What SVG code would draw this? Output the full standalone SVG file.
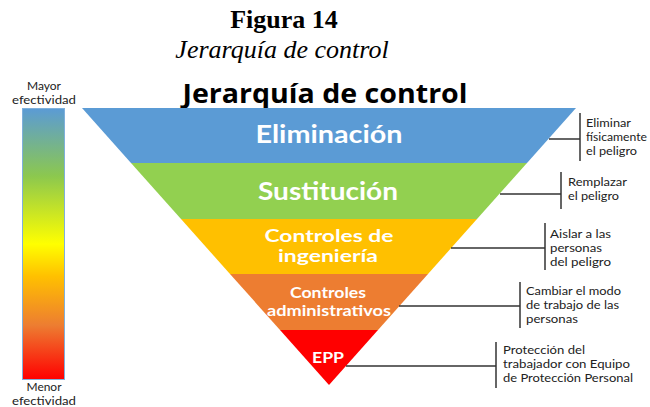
<svg xmlns="http://www.w3.org/2000/svg" width="650" height="407" viewBox="0 0 650 407">
<defs>
<linearGradient id="eff" x1="0" y1="0" x2="0" y2="1">
<stop offset="0" stop-color="#5b9bd5"/>
<stop offset="0.25" stop-color="#8cc84e"/>
<stop offset="0.5" stop-color="#ffff00"/>
<stop offset="0.62" stop-color="#ffc000"/>
<stop offset="0.8" stop-color="#ed7d31"/>
<stop offset="1" stop-color="#ff0000"/>
</linearGradient>
<style>
.band{font-family:Lato,"Open Sans",sans-serif;font-weight:700;fill:#fff;text-anchor:middle}
.note{font-family:Lato,"Open Sans",sans-serif;font-size:11.6px;fill:#222}
.side{font-family:Lato,"Open Sans",sans-serif;font-size:11.5px;fill:#222;text-anchor:middle}
.conn line{stroke:#333;stroke-width:1.5}
</style>
</defs>
<rect width="650" height="407" fill="#fff"/>
<g id="caption">
<text x="284" y="28" text-anchor="middle" font-family="Liberation Serif,serif" font-weight="700" font-size="26">Figura 14</text>
<text x="282" y="58" text-anchor="middle" font-family="Liberation Serif,serif" font-style="italic" font-size="26">Jerarquía de control</text>
</g>
<g id="title">
<text x="325" y="103" text-anchor="middle" font-family="Open Sans,DejaVu Sans,sans-serif" font-weight="700" font-size="27" textLength="285" lengthAdjust="spacingAndGlyphs" fill="#000">Jerarquía de control</text>
</g>
<g id="scale">
<rect x="22.5" y="108.5" width="42" height="271" fill="url(#eff)" stroke="#7fb0dc" stroke-width="1"/>
<text class="side" x="44" y="90" textLength="34" lengthAdjust="spacingAndGlyphs">Mayor</text>
<text class="side" x="44" y="104" textLength="64" lengthAdjust="spacingAndGlyphs">efectividad</text>
<text class="side" x="44" y="391" textLength="35" lengthAdjust="spacingAndGlyphs">Menor</text>
<text class="side" x="44" y="405" textLength="64" lengthAdjust="spacingAndGlyphs">efectividad</text>
</g>
<g id="eliminacion">
<polygon points="82,108 576,108 527,163 131,163" fill="#5b9bd5"/>
<text class="band" x="329" y="143" font-size="24" textLength="147" lengthAdjust="spacingAndGlyphs">Eliminación</text>
</g>
<g id="sustitucion">
<polygon points="131,163 527,163 477,219 181,219" fill="#92d050"/>
<text class="band" x="328" y="200" font-size="24" textLength="140" lengthAdjust="spacingAndGlyphs">Sustitución</text>
</g>
<g id="ingenieria">
<polygon points="181,219 477,219 428,274 230,274" fill="#ffc000"/>
<text class="band" x="329" y="242" font-size="16.5" textLength="129" lengthAdjust="spacingAndGlyphs">Controles de</text>
<text class="band" x="328" y="262" font-size="16.5" textLength="100" lengthAdjust="spacingAndGlyphs">ingeniería</text>
</g>
<g id="administrativos">
<polygon points="230,274 428,274 378,330 280,330" fill="#ed7d31"/>
<text class="band" x="328" y="298" font-size="14.5" textLength="76" lengthAdjust="spacingAndGlyphs">Controles</text>
<text class="band" x="329" y="316" font-size="14.5" textLength="124" lengthAdjust="spacingAndGlyphs">administrativos</text>
</g>
<g id="epp">
<polygon points="280,330 378,330 329,385" fill="#ff0000"/>
<text class="band" x="328" y="363" font-size="16" textLength="32" lengthAdjust="spacingAndGlyphs">EPP</text>
</g>
<g class="conn" id="connectors">
<line x1="549" y1="139" x2="580" y2="139"/>
<line x1="580" y1="113" x2="580" y2="161"/>
<line x1="500" y1="194" x2="561" y2="194"/>
<line x1="561" y1="172" x2="561" y2="209"/>
<line x1="451" y1="248" x2="545" y2="248"/>
<line x1="545" y1="223" x2="545" y2="270"/>
<line x1="399" y1="306" x2="520" y2="306"/>
<line x1="520" y1="282" x2="520" y2="328"/>
<line x1="346" y1="366" x2="496" y2="366"/>
<line x1="496" y1="342" x2="496" y2="388"/>
</g>
<g id="notes">
<text class="note" x="586" y="127" textLength="45" lengthAdjust="spacingAndGlyphs">Eliminar</text>
<text class="note" x="586" y="141" textLength="61" lengthAdjust="spacingAndGlyphs">físicamente</text>
<text class="note" x="586" y="155" textLength="51" lengthAdjust="spacingAndGlyphs">el peligro</text>
<text class="note" x="568" y="186" textLength="59" lengthAdjust="spacingAndGlyphs">Remplazar</text>
<text class="note" x="568" y="200" textLength="51" lengthAdjust="spacingAndGlyphs">el peligro</text>
<text class="note" x="550" y="238" textLength="61" lengthAdjust="spacingAndGlyphs">Aislar a las</text>
<text class="note" x="550" y="252" textLength="52" lengthAdjust="spacingAndGlyphs">personas</text>
<text class="note" x="550" y="266" textLength="61" lengthAdjust="spacingAndGlyphs">del peligro</text>
<text class="note" x="526" y="295" textLength="95" lengthAdjust="spacingAndGlyphs">Cambiar el modo</text>
<text class="note" x="526" y="309" textLength="93" lengthAdjust="spacingAndGlyphs">de trabajo de las</text>
<text class="note" x="526" y="323" textLength="52" lengthAdjust="spacingAndGlyphs">personas</text>
<text class="note" x="503" y="354" textLength="82" lengthAdjust="spacingAndGlyphs">Protección del</text>
<text class="note" x="503" y="368" textLength="127" lengthAdjust="spacingAndGlyphs">trabajador con Equipo</text>
<text class="note" x="503" y="382" textLength="130" lengthAdjust="spacingAndGlyphs">de Protección Personal</text>
</g>
</svg>
